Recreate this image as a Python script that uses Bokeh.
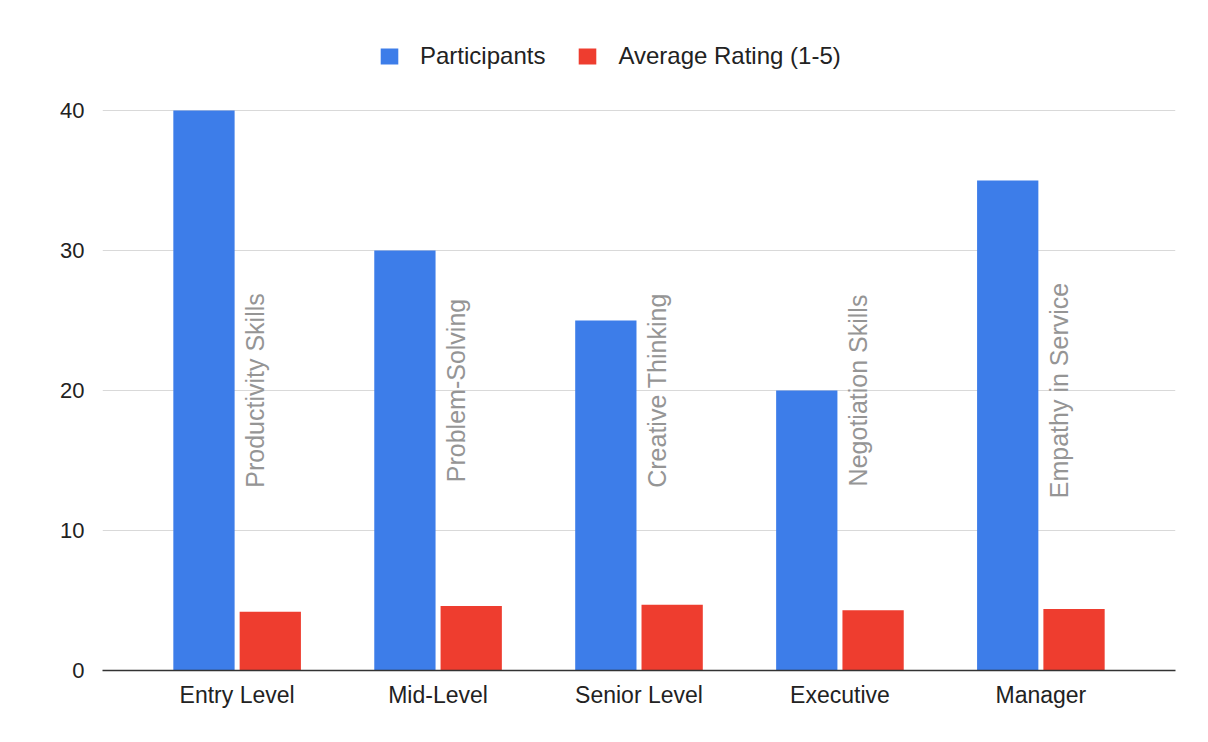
import math
from bokeh.plotting import figure
from bokeh.models import (FactorRange, Range1d, Legend, LegendItem, FixedTicker,
                          ColumnDataSource)
from bokeh.transform import dodge
from bokeh.core.properties import value
from bokeh.embed import file_html
from bokeh.resources import INLINE

levels = ["Entry Level", "Mid-Level", "Senior Level", "Executive", "Manager"]
participants = [40, 30, 25, 20, 35]
ratings = [4.2, 4.6, 4.7, 4.3, 4.4]
skills = ["Productivity Skills", "Problem-Solving", "Creative Thinking",
          "Negotiation Skills", "Empathy in Service"]
y_ticks = [0, 10, 20, 30, 40]

FONT = "Liberation Sans"
BLUE = "#3d7de9"
RED = "#ee3d2f"

src = ColumnDataSource(dict(level=levels, participants=participants,
                            rating=ratings, skill=skills))

p = figure(x_range=FactorRange(factors=levels, range_padding=0.17,
                               range_padding_units="absolute"),
           y_range=Range1d(0, 45),
           width=1208, height=742, output_backend="svg", toolbar_location=None,
           min_border_left=102, min_border_right=33, min_border_top=40,
           min_border_bottom=72)

b = p.vbar(x=dodge("level", -0.165, range=p.x_range), top="participants",
           width=0.305, source=src, fill_color=BLUE, line_color=None)
r = p.vbar(x=dodge("level", 0.165, range=p.x_range), top="rating",
           width=0.305, source=src, fill_color=RED, line_color=None)

p.text(x=dodge("level", 0.09, range=p.x_range), y=20, text="skill",
       angle=math.pi / 2, text_align="center", text_baseline="middle",
       text_font=value(FONT), text_font_size="25px", text_color="#959595",
       source=src)

legend = Legend(items=[LegendItem(label="Participants", renderers=[b]),
                       LegendItem(label="Average Rating (1-5)", renderers=[r])],
                orientation="horizontal", location=(276, 600),
                glyph_width=22, glyph_height=20, label_standoff=20, spacing=31,
                padding=0, margin=0, border_line_color=None,
                background_fill_alpha=0, label_text_font=FONT,
                label_text_font_size="24px", label_text_color="#222222")
p.add_layout(legend)

p.yaxis.ticker = FixedTicker(ticks=y_ticks)
p.yaxis.axis_line_color = None
p.yaxis.major_tick_line_color = None
p.yaxis.minor_tick_line_color = None
p.yaxis.major_label_standoff = 12
p.yaxis.major_label_text_font = FONT
p.yaxis.major_label_text_font_size = "22px"
p.yaxis.major_label_text_color = "#222222"

p.xaxis.axis_line_color = "#333333"
p.xaxis.axis_line_width = 1.5
p.xaxis.major_tick_line_color = None
p.xaxis.minor_tick_line_color = None
p.xaxis.major_label_standoff = 5
p.xaxis.major_label_text_font = FONT
p.xaxis.major_label_text_font_size = "23px"
p.xaxis.major_label_text_color = "#222222"

p.xgrid.grid_line_color = None
p.ygrid.ticker = FixedTicker(ticks=y_ticks)
p.ygrid.grid_line_color = "#d9d9d9"
p.outline_line_color = None

open("out.html", "w").write(file_html(p, INLINE))
